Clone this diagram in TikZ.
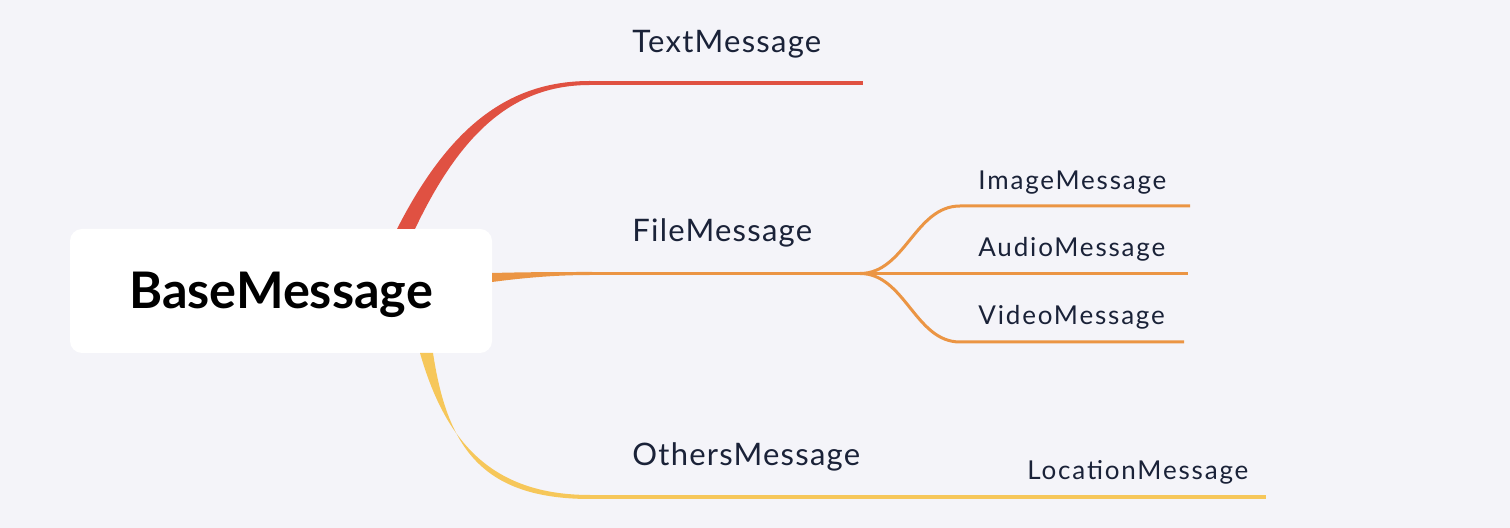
\documentclass[tikz,border=0pt]{standalone}
\usepackage{fontspec}
\setmainfont{Lato}
\newfontfamily\mainlblfont{Lato}[LetterSpace=4]
\newfontfamily\sublblfont{Lato}[LetterSpace=7]
\definecolor{bg}{HTML}{F4F4F9}
\definecolor{cred}{HTML}{E05142}
\definecolor{corange}{HTML}{EB9544}
\definecolor{cyellow}{HTML}{F6C75A}
\definecolor{txt}{HTML}{1A2238}
\begin{document}
\begin{tikzpicture}[x=0.5pt,y=-0.5pt,
  lbl/.style={anchor=base west,inner sep=0pt,text=txt},
  mainlbl/.style={lbl,font=\mainlblfont\fontsize{15.5}{18}\selectfont},
  sublbl/.style={lbl,font=\sublblfont\fontsize{13}{16}\selectfont},
  branch/.style={line width=2pt,line cap=butt},
  sub/.style={line width=1.5pt,corange}]
\fill[bg] (0,0) rectangle (1510,528);
\useasboundingbox (0,0) rectangle (1510,528);
\node[fill=white,rounded corners=6pt,minimum width=211pt,minimum height=62pt,inner sep=0pt] (base) at (281,291) {};
\node[anchor=base,inner sep=0pt,text=black,font=\fontsize{25.2}{30}\selectfont\bfseries] (basetxt) at (281,309) {BaseMessage};
% coordinates
\coordinate (rA) at (397,229);
\coordinate (rB) at (415,229);
\coordinate (r1) at (590,81);
\coordinate (r2) at (590,85);
\coordinate (rE) at (863,83);
\coordinate (oA) at (492,273);
\coordinate (oB) at (492,282);
\coordinate (o1) at (592,272);
\coordinate (o2) at (592,275);
\coordinate (oJ) at (860,273.5);
\coordinate (oE) at (1188,273.5);
\coordinate (iS) at (960,206);
\coordinate (iE) at (1190,206);
\coordinate (vS) at (960,342);
\coordinate (vE) at (1184,342);
\coordinate (yA) at (420,353);
\coordinate (yB) at (433,353);
\coordinate (y1) at (590,495);
\coordinate (y2) at (590,499);
\coordinate (yE) at (1266,497);
% red
\fill[cred] (rA) .. controls (450,125) and (510,81) .. (r1) -- (r2) .. controls (515,85) and (462,130) .. (rB) -- cycle;
\draw[branch,cred] (590,83) -- (rE);
% orange
\fill[corange] (oA) .. controls (530,272) and (560,272) .. (o1) -- (o2) .. controls (560,275) and (530,277) .. (oB) -- cycle;
\draw[branch,corange,line width=1.6pt] (590,273.5) -- (oE);
\draw[sub] (oJ) .. controls (905,273.5) and (915,206) .. (iS) -- (iE);
\draw[sub] (oJ) .. controls (905,273.5) and (915,342) .. (vS) -- (vE);
% yellow
\fill[cyellow] (yA) .. controls (445,440) and (490,495) .. (y1) -- (y2) .. controls (480,499) and (447,445) .. (yB) -- cycle;
\draw[branch,cyellow] (588,497) -- (yE);
% labels
\node[mainlbl] (t1) at (632,53) {TextMessage};
\node[mainlbl] (t2) at (632,242) {FileMessage};
\node[mainlbl] (t3) at (632,466) {OthersMessage};
\node[sublbl] (s1) at (978,190) {ImageMessage};
\node[sublbl] (s2) at (978,257) {AudioMessage};
\node[sublbl] (s3) at (978,325) {VideoMessage};
\node[sublbl] (s4) at (1027,480) {LocationMessage};
\end{tikzpicture}
\end{document}
